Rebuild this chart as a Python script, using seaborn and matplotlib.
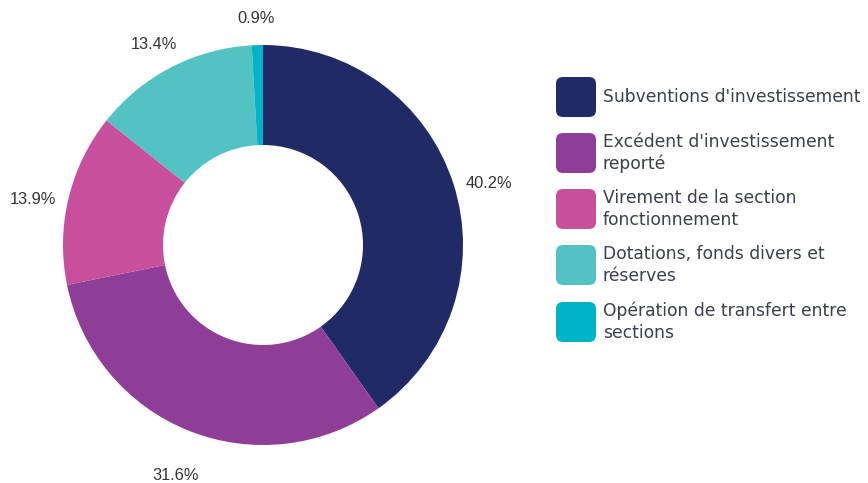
import matplotlib
matplotlib.use("Agg")
import matplotlib.pyplot as plt
from matplotlib.patches import FancyBboxPatch
import seaborn as sns

categories = [
    "Subventions d'investissement",
    "Excédent d'investissement\nreporté",
    "Virement de la section\nfonctionnement",
    "Dotations, fonds divers et\nréserves",
    "Opération de transfert entre\nsections",
]
values = [40.2, 31.6, 13.9, 13.4, 0.9]
colors = ["#1f2a66", "#8e3e96", "#c84f9c", "#52c3c2", "#00b3c6"]

sns.set_theme(style="white")
plt.rcParams['font.family'] = ['DejaVu Sans']

W, H = 868, 483
fig = plt.figure(figsize=(W / 100, H / 100), dpi=100)
fig.patch.set_facecolor("white")

cx, cy, r = 263, 245, 200
ax = fig.add_axes([(cx - r) / W, (H - cy - r) / H, 2 * r / W, 2 * r / H])
palette = sns.color_palette(colors)
wedges, texts = ax.pie(
    values,
    colors=palette,
    startangle=90,
    counterclock=False,
    radius=1.0,
    wedgeprops=dict(width=0.5, linewidth=0),
    labels=[f"{v:.1f}%" for v in values],
    labeldistance=1.185,
    textprops=dict(fontsize=11.8, color="#333333", family=["Liberation Sans"]),
)
for t in texts:
    t.set_ha("center")
    t.set_va("center")
    x, y = t.get_position()
    t.set_position((x, y - 0.05))
ax.set_xlim(-1, 1)
ax.set_ylim(-1, 1)
ax.set_aspect("equal")
ax.axis("off")

# legend
patch_tops = [77, 133, 189, 245, 302]
px, ps = 556, 40
for cat, col, top in zip(categories, colors, patch_tops):
    p = FancyBboxPatch(
        ((px) / W, (H - top - ps) / H), ps / W, ps / H,
        boxstyle="round,pad=0,rounding_size=0.008",
        transform=fig.transFigure, facecolor=col, edgecolor="none",
        mutation_aspect=W / H,
    )
    fig.add_artist(p)
    fig.text(603 / W, (H - top - ps / 2) / H, cat, ha="left", va="center",
             fontsize=12.3, color="#3b4050", linespacing=1.3)

fig.savefig("out.png", dpi=100)
